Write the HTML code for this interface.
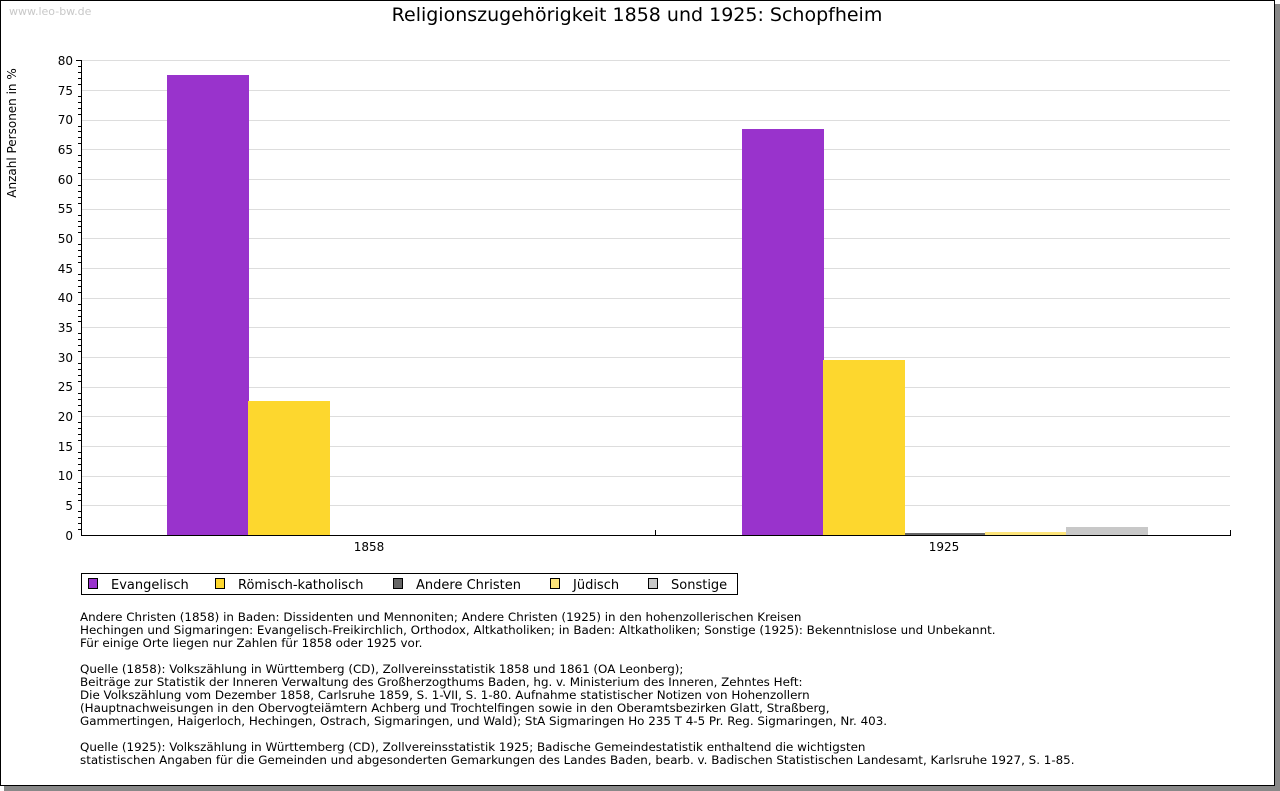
<!DOCTYPE html>
<html><head><meta charset="utf-8"><style>
body{margin:0;background:#fff;}
svg{display:block;font-family:"DejaVu Sans","Liberation Sans",sans-serif;}
</style></head><body>
<svg width="1280" height="791" viewBox="0 0 1280 791" xmlns="http://www.w3.org/2000/svg">
<rect x="4" y="4" width="1276" height="787" fill="#888"/>
<rect x="0.5" y="0.5" width="1274" height="785" fill="#fff" stroke="#000"/>
<text x="9" y="15" font-size="11" fill="#c8c8c8">www.leo-bw.de</text>
<text x="637" y="21" font-size="19" text-anchor="middle" fill="#000">Religionszugehörigkeit 1858 und 1925: Schopfheim</text>
<text transform="translate(16,133) rotate(-90)" font-size="12" text-anchor="middle">Anzahl Personen in %</text>
<g stroke="#ddd" stroke-width="1">
<line x1="81" x2="1230" y1="60.5" y2="60.5"/><line x1="81" x2="1230" y1="90.5" y2="90.5"/>
<line x1="81" x2="1230" y1="120.5" y2="120.5"/><line x1="81" x2="1230" y1="149.5" y2="149.5"/>
<line x1="81" x2="1230" y1="179.5" y2="179.5"/><line x1="81" x2="1230" y1="209.5" y2="209.5"/>
<line x1="81" x2="1230" y1="238.5" y2="238.5"/><line x1="81" x2="1230" y1="268.5" y2="268.5"/>
<line x1="81" x2="1230" y1="298.5" y2="298.5"/><line x1="81" x2="1230" y1="327.5" y2="327.5"/>
<line x1="81" x2="1230" y1="357.5" y2="357.5"/><line x1="81" x2="1230" y1="387.5" y2="387.5"/>
<line x1="81" x2="1230" y1="416.5" y2="416.5"/><line x1="81" x2="1230" y1="446.5" y2="446.5"/>
<line x1="81" x2="1230" y1="476.5" y2="476.5"/><line x1="81" x2="1230" y1="505.5" y2="505.5"/>
</g>
<g font-size="12" text-anchor="end">
<text x="73" y="65">80</text><text x="73" y="95">75</text><text x="73" y="124">70</text>
<text x="73" y="154">65</text><text x="73" y="184">60</text><text x="73" y="213">55</text>
<text x="73" y="243">50</text><text x="73" y="273">45</text><text x="73" y="302">40</text>
<text x="73" y="332">35</text><text x="73" y="362">30</text><text x="73" y="391">25</text>
<text x="73" y="421">20</text><text x="73" y="451">15</text><text x="73" y="480">10</text>
<text x="73" y="510">5</text><text x="73" y="540">0</text>
</g>
<rect x="167" y="75" width="82" height="460" fill="#9933cc"/>
<rect x="248" y="401" width="82" height="134" fill="#fdd72e"/>
<rect x="742" y="129" width="82" height="406" fill="#9933cc"/>
<rect x="823" y="360" width="82" height="175" fill="#fdd72e"/>
<rect x="905" y="533" width="82" height="2" fill="#666"/>
<rect x="985" y="532" width="81" height="3" fill="#fde47a"/>
<rect x="1066" y="527" width="82" height="8" fill="#c8c8c8"/>
<g stroke="#000" stroke-width="1">
<line x1="81.5" y1="60" x2="81.5" y2="535"/>
<line x1="81" y1="535.5" x2="1231" y2="535.5"/>
<line x1="76" y1="60.5" x2="81" y2="60.5"/>
<line x1="655.5" y1="530" x2="655.5" y2="535"/>
<line x1="1230.5" y1="530" x2="1230.5" y2="535"/>
</g>
<path stroke="#000" stroke-width="1" d="M78 66.5h3M78 72.5h3M78 78.5h3M78 84.5h3M78 96.5h3M78 102.5h3M78 108.5h3M78 114.5h3M78 126.5h3M78 131.5h3M78 137.5h3M78 143.5h3M78 155.5h3M78 161.5h3M78 167.5h3M78 173.5h3M78 185.5h3M78 191.5h3M78 197.5h3M78 203.5h3M78 215.5h3M78 221.5h3M78 226.5h3M78 232.5h3M78 244.5h3M78 250.5h3M78 256.5h3M78 262.5h3M78 274.5h3M78 280.5h3M78 286.5h3M78 292.5h3M78 304.5h3M78 310.5h3M78 316.5h3M78 321.5h3M78 333.5h3M78 339.5h3M78 345.5h3M78 351.5h3M78 363.5h3M78 369.5h3M78 375.5h3M78 381.5h3M78 393.5h3M78 399.5h3M78 405.5h3M78 411.5h3M78 422.5h3M78 428.5h3M78 434.5h3M78 440.5h3M78 452.5h3M78 458.5h3M78 464.5h3M78 470.5h3M78 482.5h3M78 488.5h3M78 494.5h3M78 500.5h3M78 511.5h3M78 517.5h3M78 523.5h3M78 529.5h3"/>
<text x="369" y="551" font-size="12" text-anchor="middle">1858</text>
<text x="944" y="551" font-size="12" text-anchor="middle">1925</text>
<rect x="81.5" y="573.5" width="656" height="21" fill="#fff" stroke="#000"/>
<g font-size="13">
<rect x="88.5" y="578.5" width="9" height="10" fill="#9933cc" stroke="#000"/><text x="111" y="589">Evangelisch</text>
<rect x="215.5" y="578.5" width="9" height="10" fill="#fdd72e" stroke="#000"/><text x="238" y="589">Römisch-katholisch</text>
<rect x="393.5" y="578.5" width="9" height="10" fill="#666" stroke="#000"/><text x="416" y="589">Andere Christen</text>
<rect x="550.5" y="578.5" width="9" height="10" fill="#fde47a" stroke="#000"/><text x="573" y="589">Jüdisch</text>
<rect x="648.5" y="578.5" width="9" height="10" fill="#c8c8c8" stroke="#000"/><text x="671" y="589">Sonstige</text>
</g>
<g font-size="11.9">
<text x="80" y="621">Andere Christen (1858) in Baden: Dissidenten und Mennoniten; Andere Christen (1925) in den hohenzollerischen Kreisen</text>
<text x="80" y="634">Hechingen und Sigmaringen: Evangelisch-Freikirchlich, Orthodox, Altkatholiken; in Baden: Altkatholiken; Sonstige (1925): Bekenntnislose und Unbekannt.</text>
<text x="80" y="647">Für einige Orte liegen nur Zahlen für 1858 oder 1925 vor.</text>
<text x="80" y="673">Quelle (1858): Volkszählung in Württemberg (CD), Zollvereinsstatistik 1858 und 1861 (OA Leonberg);</text>
<text x="80" y="686">Beiträge zur Statistik der Inneren Verwaltung des Großherzogthums Baden, hg. v. Ministerium des Inneren, Zehntes Heft:</text>
<text x="80" y="699">Die Volkszählung vom Dezember 1858, Carlsruhe 1859, S. 1-VII, S. 1-80. Aufnahme statistischer Notizen von Hohenzollern</text>
<text x="80" y="712">(Hauptnachweisungen in den Obervogteiämtern Achberg und Trochtelfingen sowie in den Oberamtsbezirken Glatt, Straßberg,</text>
<text x="80" y="725">Gammertingen, Haigerloch, Hechingen, Ostrach, Sigmaringen, und Wald); StA Sigmaringen Ho 235 T 4-5 Pr. Reg. Sigmaringen, Nr. 403.</text>
<text x="80" y="751">Quelle (1925): Volkszählung in Württemberg (CD), Zollvereinsstatistik 1925; Badische Gemeindestatistik enthaltend die wichtigsten</text>
<text x="80" y="764">statistischen Angaben für die Gemeinden und abgesonderten Gemarkungen des Landes Baden, bearb. v. Badischen Statistischen Landesamt, Karlsruhe 1927, S. 1-85.</text>
</g>
</svg>
</body></html>
